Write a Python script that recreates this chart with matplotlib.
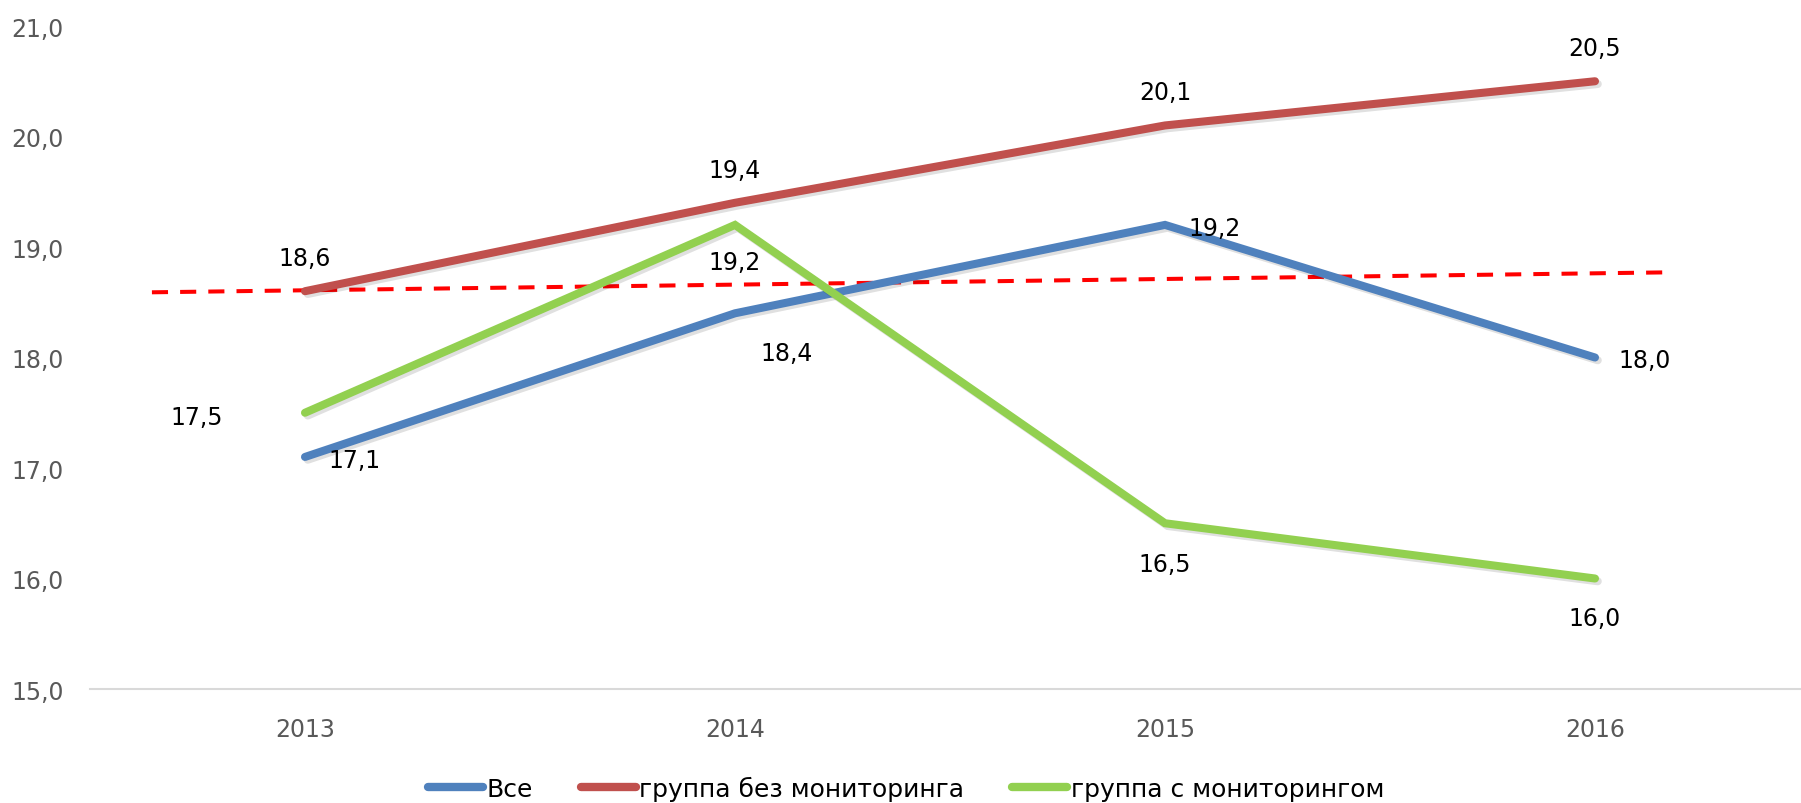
import matplotlib
matplotlib.use("Agg")
import matplotlib.pyplot as plt
import matplotlib.patheffects as pe
from matplotlib.lines import Line2D

# data
years = ["2013", "2014", "2015", "2016"]
vse = [17.1, 18.4, 19.2, 18.0]
bez_mon = [18.6, 19.4, 20.1, 20.5]
s_mon = [17.5, 19.2, 16.5, 16.0]
series_names = ["Все", "группа без мониторинга", "группа с мониторингом"]
trend_x = [-0.356, 3.158]
trend_y = [18.59, 18.77]
y_ticks = [15, 16, 17, 18, 19, 20, 21]

colors = ["#4F81BD", "#C0504D", "#92D050"]

# label offsets in pixels (dx, dy, ha) per point
vse_offsets = [(23, -3, "left"), (25, -40, "left"), (23, -3, "left"), (23, -2, "left")]
bez_offsets = [(0, 33, "center")] * 4
s_offsets = [(-82, -4, "right"), (0, -37, "center"), (0, -41, "center"), (0, -39, "center")]

fig = plt.figure(figsize=(18.01, 8.04), dpi=100)
ax = fig.add_axes([90 / 1801, 114 / 804, 1720 / 1801, 663 / 804])

x = list(range(len(years)))
shadow = [pe.SimpleLineShadow(offset=(2, -2), shadow_color="black", alpha=0.12), pe.Normal()]

# trend line
ax.plot(trend_x, trend_y, color="#FF0000", lw=2.9, dashes=(4, 3), zorder=3)

for vals, col, offs in [(vse, colors[0], vse_offsets),
                        (bez_mon, colors[1], bez_offsets),
                        (s_mon, colors[2], s_offsets)]:
    ax.plot(x, vals, color=col, lw=5.8, solid_capstyle="round",
            solid_joinstyle="miter", path_effects=shadow, zorder=4)
    for xi, v, (dx, dy, ha) in zip(x, vals, offs):
        ax.annotate(f"{v:.1f}".replace(".", ","), (xi, v), xytext=(dx, dy),
                    textcoords="offset pixels", ha=ha, va="center",
                    fontsize=17, color="black", zorder=6)

ax.set_xlim(-0.5, 3.5)
ax.set_ylim(15, 21)
ax.set_xticks(x)
ax.set_xticklabels(years)
ax.set_yticks(y_ticks)
ax.set_yticklabels([f"{t:.1f}".replace(".", ",") for t in y_ticks])
ax.tick_params(axis="both", length=0, colors="#595959", labelsize=17)
ax.tick_params(axis="y", pad=19)
ax.tick_params(axis="x", pad=20)

for side in ["top", "right", "left"]:
    ax.spines[side].set_visible(False)
ax.spines["bottom"].set_color("#D9D9D9")
ax.spines["bottom"].set_linewidth(1.5)

handles = [Line2D([0], [0], color=c, lw=6, solid_capstyle="round") for c in colors]
fig.legend(handles, series_names, loc="center", bbox_to_anchor=(0.503, 0.018),
           ncol=3, frameon=False, handlelength=2.2, handletextpad=0.15,
           columnspacing=1.9, fontsize=18)

fig.savefig("out.png", dpi=100)
